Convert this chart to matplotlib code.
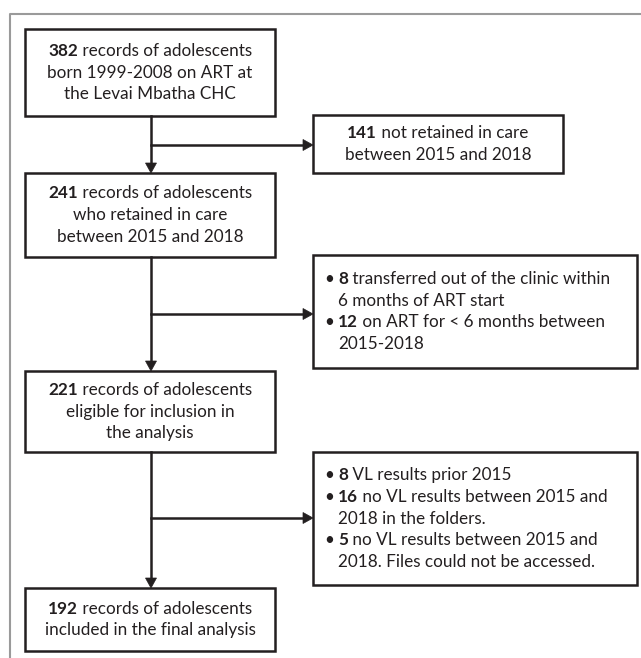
import matplotlib
matplotlib.use("Agg")
import matplotlib.pyplot as plt
from matplotlib.patches import Rectangle, Polygon

# counts shown in the flow chart
n_start = 382
n_not_retained = 141
n_retained = 241
n_transferred = 8
n_short_art = 12
n_eligible = 221
n_vl_prior = 8
n_no_vl_folder = 16
n_no_vl_access = 5
n_final = 192

# main column boxes: (lines, each line is list of (text, bold))
main_texts = [
    [[(str(n_start), True), (" records of adolescents", False)],
     [("born 1999-2008 on ART at", False)],
     [("the Levai Mbatha CHC", False)]],
    [[(str(n_retained), True), (" records of adolescents", False)],
     [("who retained in care", False)],
     [("between 2015 and 2018", False)]],
    [[(str(n_eligible), True), (" records of adolescents", False)],
     [("eligible for inclusion in", False)],
     [("the analysis", False)]],
    [[(str(n_final), True), (" records of adolescents", False)],
     [("included in the final analysis", False)]],
]

# side boxes: lines with a bullet flag
side_texts = [
    [(False, [(str(n_not_retained), True), (" not retained in care", False)]),
     (False, [("between 2015 and 2018", False)])],
    [(True, [(str(n_transferred), True), (" transferred out of the clinic within", False)]),
     (None, [("6 months of ART start", False)]),
     (True, [(str(n_short_art), True), (" on ART for < 6 months between", False)]),
     (None, [("2015-2018", False)])],
    [(True, [(str(n_vl_prior), True), (" VL results prior 2015", False)]),
     (True, [(str(n_no_vl_folder), True), (" no VL results between 2015 and", False)]),
     (None, [("2018 in the folders.", False)]),
     (True, [(str(n_no_vl_access), True), (" no VL results between 2015 and", False)]),
     (None, [("2018. Files could not be accessed.", False)])],
]

# layout in pixels (y from top)
main_boxes = [(25, 29, 275, 116), (25, 173, 275, 257), (25, 371, 275, 452), (25, 588, 275, 651)]
side_boxes = [(313, 115, 563, 173), (313, 255, 637, 368), (313, 452, 637, 585)]
branch_y = [145, 314, 518]
col_x = 151

W, H = 641, 658
fig = plt.figure(figsize=(W / 100, H / 100), dpi=100)
ax = fig.add_axes([0, 0, 1, 1])
ax.set_xlim(0, W)
ax.set_ylim(H, 0)
ax.axis("off")

FONT = "Lato"
FS = 12.3
LH = 21.8
ink = "#231f20"
lw = 1.8

renderer = fig.canvas.get_renderer()


def seg_width(s, bold):
    t = ax.text(0, 0, s, fontsize=FS, family=FONT, fontweight="bold" if bold else "normal")
    bb = t.get_window_extent(renderer=renderer)
    t.remove()
    return bb.width


def draw_line(x, y, segs, center=False):
    widths = [seg_width(s, b) for s, b in segs]
    if center:
        x = x - sum(widths) / 2
    for (s, b), w in zip(segs, widths):
        ax.text(x, y, s, fontsize=FS, family=FONT, color=ink,
                fontweight="bold" if b else "normal", va="center", ha="left")
        x += w


# outer frame
ax.plot([10, 10, W], [H, 14, 14], color="#9a9a9a", lw=1.5, solid_capstyle="butt")

for (x0, y0, x1, y1), lines in zip(main_boxes, main_texts):
    ax.add_patch(Rectangle((x0, y0), x1 - x0, y1 - y0, fill=False, ec=ink, lw=lw))
    cy = (y0 + y1) / 2
    n = len(lines)
    for i, segs in enumerate(lines):
        draw_line((x0 + x1) / 2, cy + (i - (n - 1) / 2) * LH, segs, center=True)

for (x0, y0, x1, y1), lines in zip(side_boxes, side_texts):
    ax.add_patch(Rectangle((x0, y0), x1 - x0, y1 - y0, fill=False, ec=ink, lw=lw))
    cy = (y0 + y1) / 2
    n = len(lines)
    for i, (bullet, segs) in enumerate(lines):
        y = cy + (i - (n - 1) / 2) * LH
        if bullet is False:
            draw_line((x0 + x1) / 2, y, segs, center=True)
        else:
            if bullet:
                ax.text(324, y, "\u2022", fontsize=FS, family=FONT, color=ink, va="center")
            draw_line(338, y, segs)


def arrow_head(tip, direction, size=10, half=5.5):
    tx, ty = tip
    if direction == "down":
        pts = [(tx - half, ty - size), (tx + half, ty - size), (tx, ty)]
    else:
        pts = [(tx - size, ty - half), (tx - size, ty + half), (tx, ty)]
    ax.add_patch(Polygon(pts, closed=True, fc=ink, ec=ink, lw=0.5))


# vertical flow arrows and side branches
for (b0, b1) in zip(main_boxes[:-1], main_boxes[1:]):
    ax.plot([col_x, col_x], [b0[3], b1[1] - 9], color=ink, lw=lw)
    arrow_head((col_x, b1[1]), "down")
for by, sb in zip(branch_y, side_boxes):
    ax.plot([col_x, sb[0] - 9], [by, by], color=ink, lw=lw)
    arrow_head((sb[0], by), "right")

fig.savefig("out.png", dpi=100)
